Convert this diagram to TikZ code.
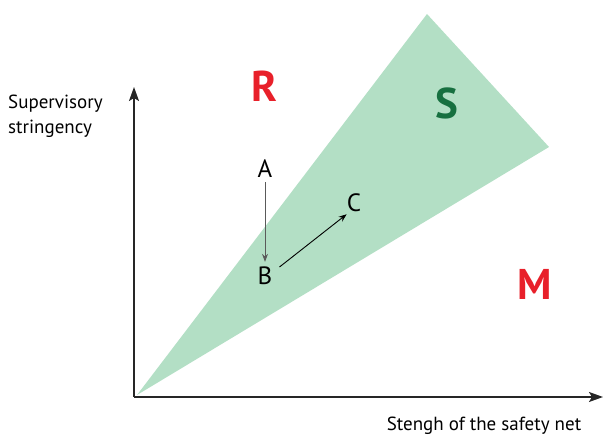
\documentclass[tikz,border=0pt]{standalone}
\usepackage{fontspec}
\setmainfont{PT Sans}
\usetikzlibrary{arrows.meta,positioning,calc}
\definecolor{zone_green}{RGB}{179, 223, 197}
\definecolor{label_green}{RGB}{23, 112, 64}
\definecolor{label_red}{RGB}{232, 32, 42}
\definecolor{step_gray}{RGB}{90, 90, 90}

\begin{document}
\begin{tikzpicture}[
    x=1pt, y=-1pt,
    % Styles
    axis/.style={line width=1.6pt, draw=black!85, -{Stealth[length=14pt,width=10pt,inset=3pt]}},
    region/.style={font=\bfseries\fontsize{43}{43}\selectfont, inner sep=0pt},
    point/.style={font=\fontsize{25}{25}\selectfont, inner sep=0pt},
    axislabel/.style={font=\fontsize{19}{25}\selectfont, align=left, inner sep=0pt},
    move/.style={line width=0.9pt, -{Stealth[length=8pt,width=6pt]}}
]
\useasboundingbox (0,0) rectangle (603,438);

% --- ZONE ---
\coordinate (origin) at (134,397);
\coordinate (top) at (427,14);
\coordinate (right) at (549,147);
\fill[zone_green] (137,395) -- (top) -- (right) -- cycle;

% --- AXES ---
\coordinate (ytip) at (134,87);
\coordinate (xtip) at (603,397);
\draw[axis] (origin) -- (ytip);
\draw[axis] (origin) -- (xtip);

\node[axislabel, anchor=north west] (ylabel) at (8,95) {Supervisory\\stringency};
\node[axislabel, anchor=north] (xlabel) at (484,417) {Stengh of the safety net};

% --- REGIONS ---
\node[region, text=label_red] (rzone) at (264,86) {R};
\node[region, text=label_green] (szone) at (447,103) {S};
\node[region, text=label_red] (mzone) at (535,284) {M};

% --- POINTS ---
\node[point] (pa) at (265,169) {A};
\node[point] (pb) at (265,276) {B};
\node[point] (pc) at (354,203) {C};

\draw[move, step_gray] ($(pa.south)+(0,4)$) -- ($(pb.north)+(0,-5)$);
\draw[move] ($(pb.east)+(7,-9)$) -- ($(pc.south west)+(0,2)$);

\end{tikzpicture}
\end{document}
